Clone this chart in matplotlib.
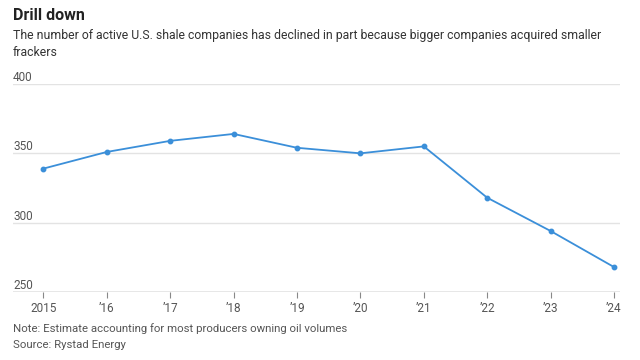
import matplotlib
matplotlib.use("Agg")
import matplotlib.pyplot as plt

years = [2015, 2016, 2017, 2018, 2019, 2020, 2021, 2022, 2023, 2024]
companies = [339, 351, 359, 364, 354, 350, 355, 318, 294, 268]
xtick_labels = ["2015", "\u201916", "\u201917", "\u201918", "\u201919", "\u201920",
                "\u201921", "\u201922", "\u201923", "\u201924"]
yticks = [250, 300, 350, 400]

plt.rcParams["font.family"] = ["Roboto", "DejaVu Sans"]

W, H = 640, 360
fig = plt.figure(figsize=(6.4, 3.6), dpi=100)
left, right, top, bottom = 13, 620, 84, 292
ax = fig.add_axes([left / W, 1 - bottom / H, (right - left) / W, (bottom - top) / H])

line_color = "#3b8fd9"
ax.plot(years, companies, color=line_color, lw=1.3, marker="o", ms=3.2,
        zorder=3, clip_on=False)

ax.set_xlim(2014.52, 2024.095)
ax.set_ylim(250, 400)
for y in yticks:
    ax.axhline(y, color="#e3e3e3", lw=1.0 if y != 250 else 1.2, zorder=1)
    ax.text(0, y, str(y), transform=ax.get_yaxis_transform(),
            ha="left", va="bottom", fontsize=8.5, color="#555555")

for s in ax.spines.values():
    s.set_visible(False)
ax.set_yticks([])
ax.set_xticks(years)
ax.set_xticklabels(xtick_labels, fontsize=8.5, color="#555555")
ax.tick_params(axis="x", length=4, width=0.8, color="#888888", pad=3)

fig.text(13 / W, 1 - 15 / H, "Drill down", fontsize=11.5, fontweight="bold",
         color="#222222", ha="left", va="center")
fig.text(13 / W, 1 - 35 / H,
         "The number of active U.S. shale companies has declined in part because bigger companies acquired smaller",
         fontsize=8.8, color="#333333", ha="left", va="center")
fig.text(13 / W, 1 - 52 / H, "frackers", fontsize=8.8, color="#333333",
         ha="left", va="center")
fig.text(13 / W, 1 - 329 / H, "Note: Estimate accounting for most producers owning oil volumes",
         fontsize=8.2, color="#555555", ha="left", va="center")
fig.text(13 / W, 1 - 345 / H, "Source: Rystad Energy",
         fontsize=8.2, color="#555555", ha="left", va="center")

fig.savefig("out.png", dpi=100)
